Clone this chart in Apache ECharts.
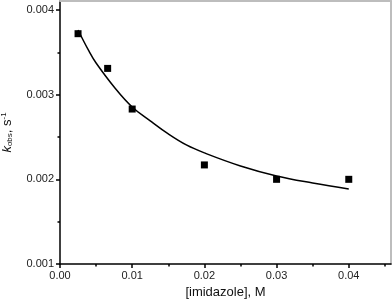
<!DOCTYPE html>
<html><head><meta charset="utf-8">
<script src="https://cdn.jsdelivr.net/npm/echarts@6/dist/echarts.min.js"></script>
<style>html,body{margin:0;padding:0;background:#fff}#c{width:392px;height:302px}</style>
</head><body><div id="c"></div>
<script>
// measured points: [imidazole] (M), k_obs (s^-1)
const imidazole = [0.0025, 0.0066, 0.010, 0.020, 0.030, 0.040];
const kobs = [0.00372, 0.00331, 0.00283, 0.00217, 0.00200, 0.00200];
// fitted curve
const fitX = [0.0025, 0.004, 0.005, 0.0075, 0.010, 0.0125, 0.015, 0.0175, 0.020, 0.025, 0.030, 0.035, 0.040];
const fitY = [0.003764, 0.003516, 0.003374, 0.003091, 0.002855, 0.00269, 0.002536, 0.002406, 0.002312, 0.002158, 0.00204, 0.001957, 0.001887];
const xMajor = [0, 0.01, 0.02, 0.03, 0.04];
const xMinor = [0.005, 0.015, 0.025, 0.035, 0.045];
const yMajor = [0.001, 0.002, 0.003, 0.004];
const yMinor = [0.0015, 0.0025, 0.0035];

const font = 'Liberation Sans, Arial, sans-serif';
const chart = echarts.init(document.getElementById('c'), null, {renderer: 'canvas'});
const X0 = 0, X1 = 0.04585, Y0 = 0.001, Y1 = 0.004106;
chart.setOption({
  animation: false,
  backgroundColor: '#fff',
  grid: {left: 60, right: 1, top: 1, bottom: 38, containLabel: false, outerBoundsMode: 'none'},
  xAxis: [
    {type: 'value', min: X0, max: X1, position: 'bottom',
     name: '[imidazole], M', nameLocation: 'middle', nameGap: 22,
     nameTextStyle: {fontFamily: font, fontSize: 13, color: '#111'},
     axisLine: {show: true, onZero: false, lineStyle: {color: '#000', width: 1.5}},
     axisTick: {show: true, length: 4, customValues: xMajor, lineStyle: {color: '#000', width: 1.5}},
     axisLabel: {customValues: xMajor, fontFamily: font, fontSize: 11, color: '#222', margin: 6,
                 formatter: v => v.toFixed(2)},
     splitLine: {show: false}},
    {type: 'value', min: X0, max: X1, position: 'bottom',
     axisLine: {show: false},
     axisTick: {show: true, length: 2.5, customValues: xMinor, lineStyle: {color: '#000', width: 1.5}},
     axisLabel: {show: false}, splitLine: {show: false}},
    {type: 'value', min: X0, max: X1, position: 'top',
     axisLine: {show: true, onZero: false, lineStyle: {color: '#bdbdbd', width: 2}},
     axisTick: {show: false}, axisLabel: {show: false}, splitLine: {show: false}}
  ],
  yAxis: [
    {type: 'value', min: Y0, max: Y1, position: 'left',
     name: '{k|k}{sub|obs}{n|, s}{sup|-1}', nameLocation: 'middle', nameGap: 46, nameRotate: 90,
     nameTextStyle: {fontFamily: font, fontSize: 13, color: '#111',
       rich: {
         k: {fontFamily: font, fontSize: 13, fontStyle: 'italic', color: '#111'},
         sub: {fontFamily: font, fontSize: 8, color: '#111', verticalAlign: 'bottom', padding: [6, 0, 0, 0]},
         n: {fontFamily: font, fontSize: 13, color: '#111'},
         sup: {fontFamily: font, fontSize: 8, color: '#111', verticalAlign: 'top', padding: [0, 0, 6, 0]}
       }},
     axisLine: {show: true, onZero: false, lineStyle: {color: '#000', width: 1.5}},
     axisTick: {show: true, length: 4, customValues: yMajor, lineStyle: {color: '#000', width: 1.5}},
     axisLabel: {customValues: yMajor, fontFamily: font, fontSize: 11, color: '#222', margin: 6,
                 formatter: v => v.toFixed(3)},
     splitLine: {show: false}},
    {type: 'value', min: Y0, max: Y1, position: 'left',
     axisLine: {show: false},
     axisTick: {show: true, length: 2.5, customValues: yMinor, lineStyle: {color: '#000', width: 1.5}},
     axisLabel: {show: false}, splitLine: {show: false}},
    {type: 'value', min: Y0, max: Y1, position: 'right',
     axisLine: {show: true, onZero: false, lineStyle: {color: '#bdbdbd', width: 2}},
     axisTick: {show: false}, axisLabel: {show: false}, splitLine: {show: false}}
  ],
  series: [
    {type: 'line', data: fitX.map((x, i) => [x, fitY[i]]), smooth: 0.4, showSymbol: false,
     lineStyle: {color: '#000', width: 1.5}, z: 2},
    {type: 'scatter', data: imidazole.map((x, i) => [x, kobs[i]]), symbol: 'rect', symbolSize: 7,
     itemStyle: {color: '#000', opacity: 1}, z: 3}
  ]
});
</script></body></html>
